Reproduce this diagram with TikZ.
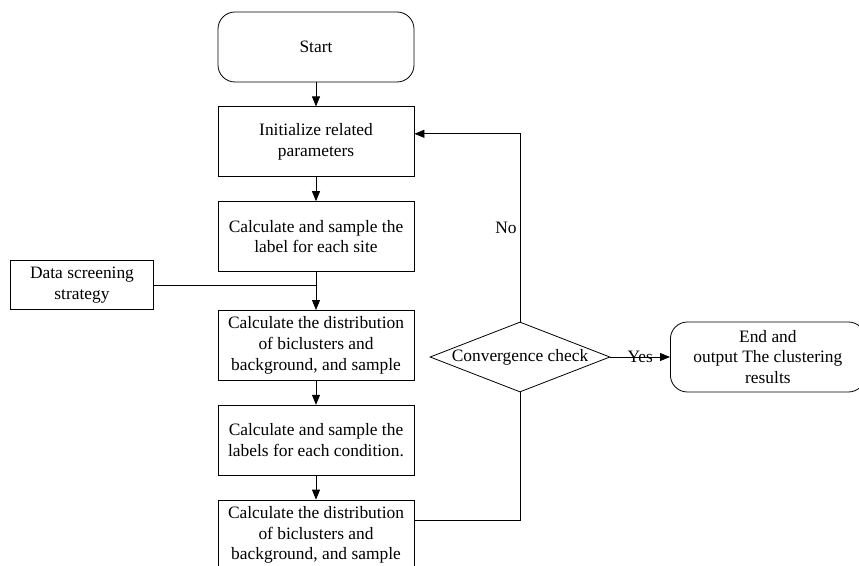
\documentclass[tikz,border=0pt]{standalone}
\usepackage{fontspec}
\setmainfont{Liberation Serif}
\usetikzlibrary{positioning,shapes.geometric,arrows.meta}

\begin{document}
\begin{tikzpicture}[x=1pt,y=1pt,
  every node/.style={font=\fontsize{17.4}{20.7}\selectfont},
  stepbox/.style={draw,line width=0.8pt,minimum width=196pt,minimum height=70pt,align=center,inner sep=2pt},
  termbox/.style={stepbox,rounded corners=17pt},
  checkbox/.style={diamond,draw,line width=0.8pt,aspect=2.57,inner sep=0pt,minimum width=180pt,minimum height=70pt},
  flow/.style={line width=0.8pt,-{Triangle[length=10pt,width=8pt]}},
  link/.style={line width=0.8pt},
  node distance=24pt]
 \useasboundingbox (0,0) rectangle (859,-565);
 \clip (0,0) rectangle (859,-565);
 \node [termbox] (start) at (316,-47) {Start};
 \node [stepbox,below=of start] (init) {Initialize related\\parameters};
 \node [stepbox,below=of init] (site) {Calculate and sample the\\label for each site};
 \node [stepbox,below=38pt of site] (dist) {Calculate the distribution\\of biclusters and\\background, and sample};
 \node [stepbox,below=of dist] (cond) {Calculate and sample the\\labels for each condition.};
 \node [stepbox,below=of cond] (last) {Calculate the distribution\\of biclusters and\\background, and sample};
 \node [stepbox,minimum width=143pt,minimum height=49pt] (data) at (82,-285) {Data screening\\strategy};
 \node [checkbox] (conv) at (520,-357) {Convergence check};
 \node [termbox,anchor=west,minimum width=195pt] (finish) at (670,-357) {End and\\output The clustering\\results};
 % main column
 \draw [flow] (start) -- (init);
 \draw [flow] (init) -- (site);
 \draw [flow] (site) -- (dist);
 \draw [link] (data.east) -- (data.east -| site.south);
 \draw [flow] (dist) -- (cond);
 \draw [flow] (cond) -- (last);
 % loop back
 \draw [link] ([yshift=15pt]last.east) -| (conv.south);
 \draw [flow] (conv.north) |- node [pos=0.25,left,inner sep=3pt] {No} ([yshift=8pt]init.east);
 \draw [flow] (conv.east) -- node {Yes} (finish.west);
\end{tikzpicture}
\end{document}
